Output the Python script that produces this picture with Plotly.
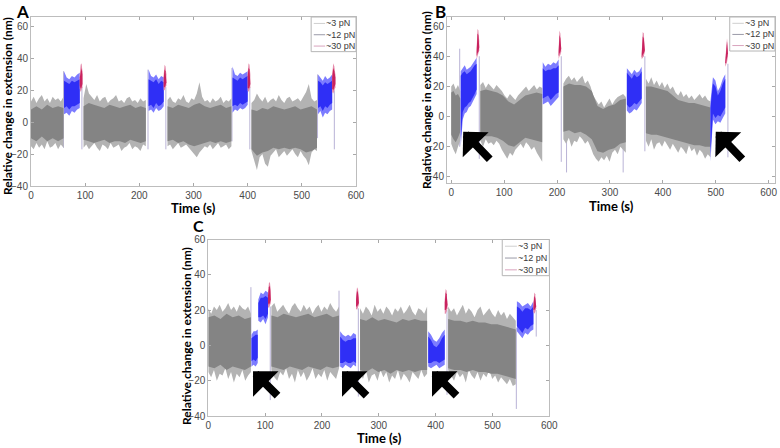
import numpy as np
import plotly.graph_objects as go

# ---------------- data (extension in nm vs time in s) ----------------
# Each segment: span [t0, t1], outer envelope hi/lo, dense core chi/clo.
# kind: 'g' = ~3 pN (grey), 'b' = ~12 pN (blue), 'r' = ~30 pN (red)

# Panel A
A_g1 = dict(span=[0, 60], hi=[13, 16, 12, 15, 17, 13, 15, 12, 16, 14, 15, 13, 16],
            lo=[-15, -17, -13, -16, -14, -17, -12, -16, -15, -13, -17, -14, -16],
            chi=[8, 10, 8, 11, 9, 10, 9], clo=[-10, -12, -9, -12, -10, -12, -10])
A_b1 = dict(span=[61, 90], hi=[32, 28, 27, 29, 28, 30, 31], lo=[5, 6, 4, 7, 6, 8, 9],
            chi=[26, 25, 24, 26, 25, 26, 27], clo=[9, 10, 8, 10, 10, 11, 12])
A_r1 = dict(span=[90, 95], hi=[30, 36, 37, 32], lo=[21, 19, 20, 22], chi=[28, 33, 34, 30], clo=[23, 21, 22, 24])
A_g2 = dict(span=[97, 212],
            hi=[15, 24, 18, 16, 14, 17, 13, 15, 16, 12, 14, 15, 17, 13, 14, 12, 15, 16, 13, 14, 12, 15, 13, 14],
            lo=[-16, -14, -17, -15, -13, -16, -18, -14, -15, -17, -13, -16, -15, -14, -18, -16, -15, -13, -17, -15, -16, -18, -14, -15],
            chi=[10, 12, 11, 10, 9, 11, 10, 9, 10, 11, 9, 10, 9],
            clo=[-11, -12, -13, -12, -11, -13, -12, -12, -13, -11, -12, -13, -12])
A_b2 = dict(span=[217, 245], hi=[33, 29, 28, 30, 27, 29, 28], lo=[7, 8, 6, 9, 7, 8, 10],
            chi=[27, 26, 25, 27, 24, 26, 25], clo=[10, 11, 9, 12, 10, 11, 13])
A_r2 = dict(span=[245, 250], hi=[30, 36, 35, 30], lo=[20, 20, 21, 23], chi=[28, 33, 32, 28], clo=[22, 22, 23, 25])
A_g3 = dict(span=[252, 370],
            hi=[14, 16, 13, 12, 15, 14, 17, 13, 12, 15, 14, 18, 25, 16, 13, 14, 12, 15, 13, 14, 16, 12, 14, 13, 15],
            lo=[-15, -14, -17, -15, -13, -16, -15, -14, -16, -18, -20, -22, -19, -17, -15, -16, -14, -17, -15, -13, -16, -15, -14, -17, -15],
            chi=[10, 9, 11, 10, 9, 11, 12, 10, 9, 10, 11, 9, 10],
            clo=[-12, -11, -13, -12, -14, -15, -14, -13, -12, -13, -12, -13, -12])
A_b3 = dict(span=[372, 400], hi=[35, 30, 29, 31, 30, 31, 32], lo=[6, 8, 7, 9, 8, 9, 11],
            chi=[28, 27, 26, 28, 27, 28, 29], clo=[10, 11, 10, 12, 11, 12, 13])
A_r3 = dict(span=[400, 405], hi=[31, 37, 36, 30], lo=[20, 19, 20, 22], chi=[29, 34, 33, 28], clo=[22, 21, 22, 24])
A_g4 = dict(span=[407, 528],
            hi=[12, 14, 18, 15, 13, 16, 12, 14, 15, 13, 17, 14, 12, 15, 16, 13, 14, 15, 13, 16, 19, 24, 15, 13, 14],
            lo=[-18, -24, -30, -22, -20, -26, -28, -21, -19, -17, -22, -20, -18, -21, -19, -17, -20, -22, -18, -21, -23, -27, -19, -17, -18],
            chi=[8, 7, 9, 8, 10, 9, 8, 9, 10, 8, 9, 10, 8],
            clo=[-17, -21, -19, -18, -16, -17, -16, -17, -16, -17, -19, -18, -16])
A_b4 = dict(span=[530, 556], hi=[30, 28, 26, 29, 27, 28, 30], lo=[5, 7, 3, 6, 5, 7, 8],
            chi=[26, 25, 23, 25, 24, 25, 26], clo=[9, 10, 7, 10, 9, 11, 12])
A_r4 = dict(span=[556, 562], hi=[30, 37, 35, 30], lo=[19, 18, 20, 22], chi=[28, 34, 32, 28], clo=[21, 20, 22, 24])
A_segs = [('g', A_g1), ('b', A_b1), ('r', A_r1), ('g', A_g2), ('b', A_b2), ('r', A_r2),
          ('g', A_g3), ('b', A_b3), ('r', A_r3), ('g', A_g4), ('b', A_b4), ('r', A_r4)]
A_spk_t = [60, 94, 216, 249, 371, 404, 529, 560]
A_spk_lo = [-16, -17, -17, -17, -12, -17, -10, -17]
A_spk_hi = [32, 22, 33, 22, 34, 22, 30, 20]

# Panel B
B_g1 = dict(span=[0, 17], hi=[20, 22, 18, 21, 17], lo=[-18, -22, -25, -20, -16],
            chi=[16, 17, 14, 15, 12], clo=[-12, -15, -17, -14, -10])
B_b1 = dict(span=[18, 48], hi=[30, 32, 34, 31, 32, 33, 35, 37, 39], lo=[-20, -2, 2, 3, 6, 7, 9, 12, 15],
            chi=[27, 29, 30, 28, 29, 30, 32, 34, 35], clo=[-15, 3, 6, 7, 9, 10, 12, 15, 18])
B_r1 = dict(span=[48, 53], hi=[45, 58, 57, 50], lo=[38, 40, 41, 44], chi=[43, 55, 54, 48], clo=[40, 42, 43, 46])
B_g2 = dict(span=[55, 172],
            hi=[21, 23, 19, 22, 20, 18, 21, 19, 17, 14, 12, 15, 13, 11, 14, 16, 18, 20, 17, 19, 21, 18, 20, 19],
            lo=[-16, -20, -15, -18, -17, -19, -16, -18, -22, -25, -28, -24, -26, -22, -20, -18, -21, -17, -19, -22, -20, -24, -27, -30],
            chi=[17, 18, 17, 16, 14, 10, 8, 11, 14, 15, 16, 15],
            clo=[-12, -13, -13, -14, -16, -19, -20, -17, -14, -15, -16, -17])
B_b2 = dict(span=[173, 203], hi=[36, 33, 35, 34, 36, 35, 38], lo=[8, 9, 10, 7, 9, 11, 13],
            chi=[32, 30, 31, 31, 32, 32, 34], clo=[12, 13, 14, 11, 13, 15, 16])
B_r2 = dict(span=[203, 208], hi=[45, 57, 55, 47], lo=[38, 40, 41, 43], chi=[43, 54, 52, 45], clo=[40, 42, 43, 45])
B_g3 = dict(span=[212, 330],
            hi=[22, 25, 27, 24, 26, 23, 25, 27, 22, 24, 20, 14, 11, 8, 10, 6, 9, 12, 8, 11, 13, 14, 15, 13],
            lo=[-15, -18, -14, -20, -16, -17, -13, -15, -18, -16, -20, -25, -28, -30, -27, -29, -26, -30, -24, -22, -25, -20, -22, -24],
            chi=[20, 22, 21, 21, 20, 17, 7, 5, 7, 8, 11, 12],
            clo=[-10, -9, -11, -10, -12, -15, -23, -24, -22, -21, -18, -17])
B_b3 = dict(span=[332, 360], hi=[32, 30, 28, 31, 29, 30, 33], lo=[4, 2, 3, 5, 4, 6, 9],
            chi=[29, 27, 25, 28, 26, 27, 30], clo=[8, 6, 7, 9, 8, 10, 12])
B_r3 = dict(span=[360, 366], hi=[42, 56, 55, 47], lo=[38, 39, 40, 43], chi=[41, 53, 52, 45], clo=[39, 41, 42, 44])
B_g4 = dict(span=[368, 490],
            hi=[25, 22, 26, 21, 24, 20, 23, 19, 22, 18, 20, 16, 14, 17, 13, 15, 12, 14, 11, 13, 15, 12, 14, 11, 10],
            lo=[-16, -20, -15, -22, -18, -17, -20, -16, -19, -22, -18, -21, -24, -20, -22, -25, -19, -23, -21, -26, -22, -24, -28, -25, -27],
            chi=[20, 20, 19, 18, 17, 14, 11, 10, 9, 9, 8, 7, 6],
            clo=[-11, -12, -12, -13, -14, -15, -16, -17, -18, -19, -19, -20, -20])
B_b4 = dict(span=[490, 518], hi=[10, 26, 24, 17, 20, 25, 28], lo=[-30, -2, -5, -3, -4, -1, 2],
            chi=[6, 22, 20, 14, 17, 22, 25], clo=[-25, 2, -1, 1, 0, 3, 6])
B_r4 = dict(span=[518, 523], hi=[38, 50, 52, 44], lo=[33, 34, 36, 40], chi=[36, 48, 50, 42], clo=[35, 36, 38, 42])
B_segs = [('g', B_g1), ('b', B_b1), ('r', B_r1), ('g', B_g2), ('b', B_b2), ('r', B_r2),
          ('g', B_g3), ('b', B_b3), ('r', B_r3), ('g', B_g4), ('b', B_b4), ('r', B_r4)]
B_spk_t = [16, 53, 208, 218, 325, 366, 523]
B_spk_lo = [-20, -28, -30, -37, -37, -23, -27]
B_spk_hi = [45, 40, 40, 10, 12, 40, 35]

# Panel C
C_g1 = dict(span=[0, 75], hi=[21, 18, 22, 20, 23, 19, 21, 24, 20, 22, 19, 23, 21, 20, 22, 18],
            lo=[-15, -18, -14, -20, -16, -17, -13, -19, -15, -21, -16, -18, -14, -20, -17, -15],
            chi=[16, 17, 15, 18, 16, 17, 15, 16], clo=[-12, -13, -11, -14, -12, -13, -14, -12])
C_b1 = dict(span=[76, 87], hi=[6, 8, 8, 9], lo=[-12, -11, -12, -10], chi=[4, 5, 6, 6], clo=[-9, -8, -9, -7])
C_b2 = dict(span=[88, 105], hi=[26, 30, 29, 31, 30], lo=[14, 13, 15, 12, 16], chi=[24, 27, 27, 28, 27], clo=[16, 16, 17, 15, 18])
C_r1 = dict(span=[105, 110], hi=[30, 35, 36, 31], lo=[22, 21, 22, 24], chi=[28, 33, 34, 29], clo=[24, 23, 24, 26])
C_g2 = dict(span=[111, 230],
            hi=[22, 24, 19, 21, 23, 20, 18, 22, 24, 21, 19, 23, 20, 22, 18, 21, 23, 19, 22, 20, 24, 21, 19, 22],
            lo=[-14, -18, -20, -15, -17, -13, -19, -16, -21, -14, -18, -15, -20, -17, -13, -19, -16, -18, -14, -20, -15, -17, -19, -13],
            chi=[17, 16, 18, 17, 16, 17, 18, 16, 17, 18, 16, 17],
            clo=[-12, -13, -14, -12, -13, -14, -12, -13, -14, -12, -13, -12])
C_b3 = dict(span=[232, 260], hi=[8, 6, 5, 6, 5, 7, 6], lo=[-12, -13, -11, -12, -13, -11, -12],
            chi=[5, 3, 2, 3, 3, 4, 4], clo=[-10, -10, -9, -10, -10, -9, -10])
C_r2 = dict(span=[260, 265], hi=[28, 33, 32, 27], lo=[21, 20, 21, 23], chi=[26, 31, 30, 25], clo=[22, 22, 23, 24])
C_g3 = dict(span=[267, 385],
            hi=[21, 18, 22, 20, 17, 23, 19, 21, 18, 22, 20, 17, 21, 19, 22, 18, 20, 23, 19, 17, 21, 20, 18, 22],
            lo=[-15, -19, -14, -21, -17, -16, -20, -14, -18, -15, -21, -17, -19, -14, -20, -16, -18, -21, -15, -17, -19, -14, -18, -16],
            chi=[15, 14, 16, 14, 15, 14, 13, 15, 14, 15, 14, 14],
            clo=[-14, -15, -13, -15, -14, -16, -14, -15, -14, -15, -14, -14])
C_b4 = dict(span=[387, 416], hi=[8, 6, 3, 2, 4, 7, 9], lo=[-12, -13, -12, -11, -13, -12, -11],
            chi=[5, 3, 0, -1, 1, 4, 6], clo=[-10, -10, -9, -9, -10, -9, -8])
C_r3 = dict(span=[416, 421], hi=[26, 32, 31, 25], lo=[18, 18, 19, 21], chi=[24, 30, 29, 23], clo=[20, 20, 21, 23])
C_g4 = dict(span=[422, 541],
            hi=[22, 19, 21, 17, 20, 23, 18, 21, 19, 16, 20, 22, 17, 19, 21, 18, 16, 20, 17, 19, 15, 18, 16, 14],
            lo=[-14, -17, -20, -15, -18, -16, -21, -14, -17, -19, -15, -20, -16, -18, -14, -19, -17, -21, -18, -20, -22, -19, -23, -22],
            chi=[15, 14, 14, 13, 14, 13, 13, 12, 12, 11, 10, 9],
            clo=[-13, -14, -14, -15, -14, -15, -15, -16, -16, -17, -18, -19])
C_b5 = dict(span=[543, 572], hi=[25, 24, 22, 23, 24, 22, 25], lo=[8, 6, 4, 7, 6, 8, 9],
            chi=[22, 21, 19, 21, 21, 20, 22], clo=[11, 9, 7, 10, 9, 11, 12])
C_r4 = dict(span=[572, 577], hi=[24, 30, 29, 24], lo=[19, 18, 19, 21], chi=[22, 28, 27, 22], clo=[20, 20, 21, 22])
C_segs = [('g', C_g1), ('b', C_b1), ('b', C_b2), ('r', C_r1), ('g', C_g2), ('b', C_b3), ('r', C_r2),
          ('g', C_g3), ('b', C_b4), ('r', C_r3), ('g', C_g4), ('b', C_b5), ('r', C_r4)]
C_spk_t = [75, 109, 230, 264, 420, 542, 577]
C_spk_lo = [-12, -31, -12, -29, -28, -36, 5]
C_spk_hi = [33, 22, 31, 21, 20, 10, 20]

# arrows (tip positions in data units)
B_arrow_x = [22.6, 500]
B_arrow_y = [-10, -10]
C_arrow_x = [78.7, 235.3, 393.6]
C_arrow_y = [-14.6, -14.6, -14.6]

LEG_LABELS = ['~3 pN', '~12 pN', '~30 pN']
LEG_COLORS = ['#cfcfcf', '#9a9aa8', '#d9a3bd']
X_TICKS = [0, 100, 200, 300, 400, 500, 600]
Y_TICKS = [-40, -20, 0, 20, 40, 60]

# ---------------- styling ----------------
COL = {'g': ('#b3b3b3', '#848484'), 'b': ('#7c7cff', '#2f2ff6'), 'r': ('#e58aaa', '#c9225e')}
SPIKE_COLOR = '#b9b3d6'

fig = go.Figure()


def add_band(t0, t1, hi, lo, color, xa, ya):
    t = np.linspace(t0, t1, len(hi))
    x = np.concatenate([t, t[::-1]])
    y = np.concatenate([np.array(hi, float), np.array(lo, float)[::-1]])
    fig.add_trace(go.Scatter(x=x, y=y, fill='toself', fillcolor=color, mode='lines',
                             line=dict(width=0, color=color), hoverinfo='skip',
                             showlegend=False, xaxis=xa, yaxis=ya))


def add_panel(segs, spk_t, spk_lo, spk_hi, xa, ya):
    xs, ys = [], []
    for t, lo, hi in zip(spk_t, spk_lo, spk_hi):
        xs += [t, t, None]
        ys += [lo, hi, None]
    fig.add_trace(go.Scatter(x=xs, y=ys, mode='lines', line=dict(width=1, color=SPIKE_COLOR),
                             hoverinfo='skip', showlegend=False, xaxis=xa, yaxis=ya))
    for kind, s in segs:
        outer, core = COL[kind]
        add_band(s['span'][0], s['span'][1], s['hi'], s['lo'], outer, xa, ya)
        add_band(s['span'][0], s['span'][1], s['chi'], s['clo'], core, xa, ya)


add_panel(A_segs, A_spk_t, A_spk_lo, A_spk_hi, 'x', 'y')
add_panel(B_segs, B_spk_t, B_spk_lo, B_spk_hi, 'x2', 'y2')
add_panel(C_segs, C_spk_t, C_spk_lo, C_spk_hi, 'x3', 'y3')

W, H = 780, 448
axis_common = dict(showline=True, linecolor='#bdbdbd', linewidth=1, mirror='ticks', ticks='inside',
                   ticklen=3, tickcolor='#a8a8a8', showgrid=False, zeroline=False, automargin=False,
                   tickfont=dict(family='Liberation Sans, Arial', size=10, color='#4a4a4a'))


def xdom(a, b):
    return [a / W, b / W]


def ydom(top, bottom):
    return [1 - bottom / H, 1 - top / H]


fig.update_layout(
    template='none',
    width=W, height=H, margin=dict(l=0, r=0, t=0, b=0, autoexpand=False),
    paper_bgcolor='white', plot_bgcolor='white', showlegend=False,
    xaxis=dict(axis_common, domain=xdom(31, 356), range=[0, 600], tickvals=X_TICKS, anchor='y'),
    yaxis=dict(axis_common, domain=ydom(17, 186), range=[-40, 66], tickvals=Y_TICKS, anchor='x'),
    xaxis2=dict(axis_common, domain=xdom(447, 775), range=[-8, 612], tickvals=X_TICKS, anchor='y2'),
    yaxis2=dict(axis_common, domain=ydom(17, 183), range=[-44, 66], tickvals=Y_TICKS, anchor='x2'),
    xaxis3=dict(axis_common, domain=xdom(208.3, 549.3), range=[0, 600], tickvals=X_TICKS, anchor='y3'),
    yaxis3=dict(axis_common, domain=ydom(239.5, 416), range=[-40, 60], tickvals=Y_TICKS, anchor='x3'),
)

TITLE_FONT = dict(family='Lato, Open Sans', size=12, color='black', weight='bold')
ann = []
shapes = []


def ptext(x, y, text, size, angle=0, yanchor='middle'):
    ann.append(dict(x=x / W, y=1 - y / H, xref='paper', yref='paper', text=text, showarrow=False,
                    textangle=angle, xanchor='center', yanchor=yanchor, borderpad=0,
                    font=dict(TITLE_FONT, size=size)))


# y-axis titles
ptext(8, 106, 'Relative change in extension (nm)', 12, -90)
ptext(426, 100, 'Relative change in extension (nm)', 12, -90)
ptext(186, 336, 'Relative change in extension (nm)', 12, -90)
# x-axis titles
ptext(193.5, 208, 'Time (s)', 13)
ptext(611, 205.5, 'Time (s)', 13)
ptext(379, 438, 'Time (s)', 13)
# panel letters
ptext(22, 0, 'A', 17, yanchor='top')
ptext(440, 0, 'B', 17, yanchor='top')
ptext(198, 225, 'C', 16)

# manual legends (one per panel)
for xa in ['x', 'x2', 'x3']:
    ya = 'y' + xa[1:]
    xr, yr = xa + ' domain', ya + ' domain'
    shapes.append(dict(type='rect', xref=xr, yref=yr, x0=0.862, x1=1.0, y0=0.795, y1=1.0,
                       line=dict(color='#b5b5b5', width=1), fillcolor='white', layer='above'))
    for yv, lab, lc in zip([0.962, 0.895, 0.828], LEG_LABELS, LEG_COLORS):
        shapes.append(dict(type='line', xref=xr, yref=yr, x0=0.87, x1=0.905, y0=yv, y1=yv,
                           line=dict(color=lc, width=1)))
        ann.append(dict(x=0.906, y=yv, xref=xr, yref=yr, text=lab, showarrow=False,
                        xanchor='left', yanchor='middle', borderpad=0,
                        font=dict(family='Liberation Sans, Arial', size=9, color='#3a3a3a')))

# black arrows
for xv, yv in zip(B_arrow_x, B_arrow_y):
    ann.append(dict(x=xv, y=yv, xref='x2', yref='y2', text='', showarrow=True, ax=28, ay=29,
                    arrowhead=1, arrowsize=0.75, arrowwidth=8, arrowcolor='black', standoff=0))
for xv, yv in zip(C_arrow_x, C_arrow_y):
    ann.append(dict(x=xv, y=yv, xref='x3', yref='y3', text='', showarrow=True, ax=26, ay=26,
                    arrowhead=1, arrowsize=0.75, arrowwidth=8, arrowcolor='black', standoff=0))

fig.update_layout(annotations=ann, shapes=shapes)
fig.write_html('out.html', config={'displayModeBar': False},
               post_script="document.body.style.margin='0px';")
